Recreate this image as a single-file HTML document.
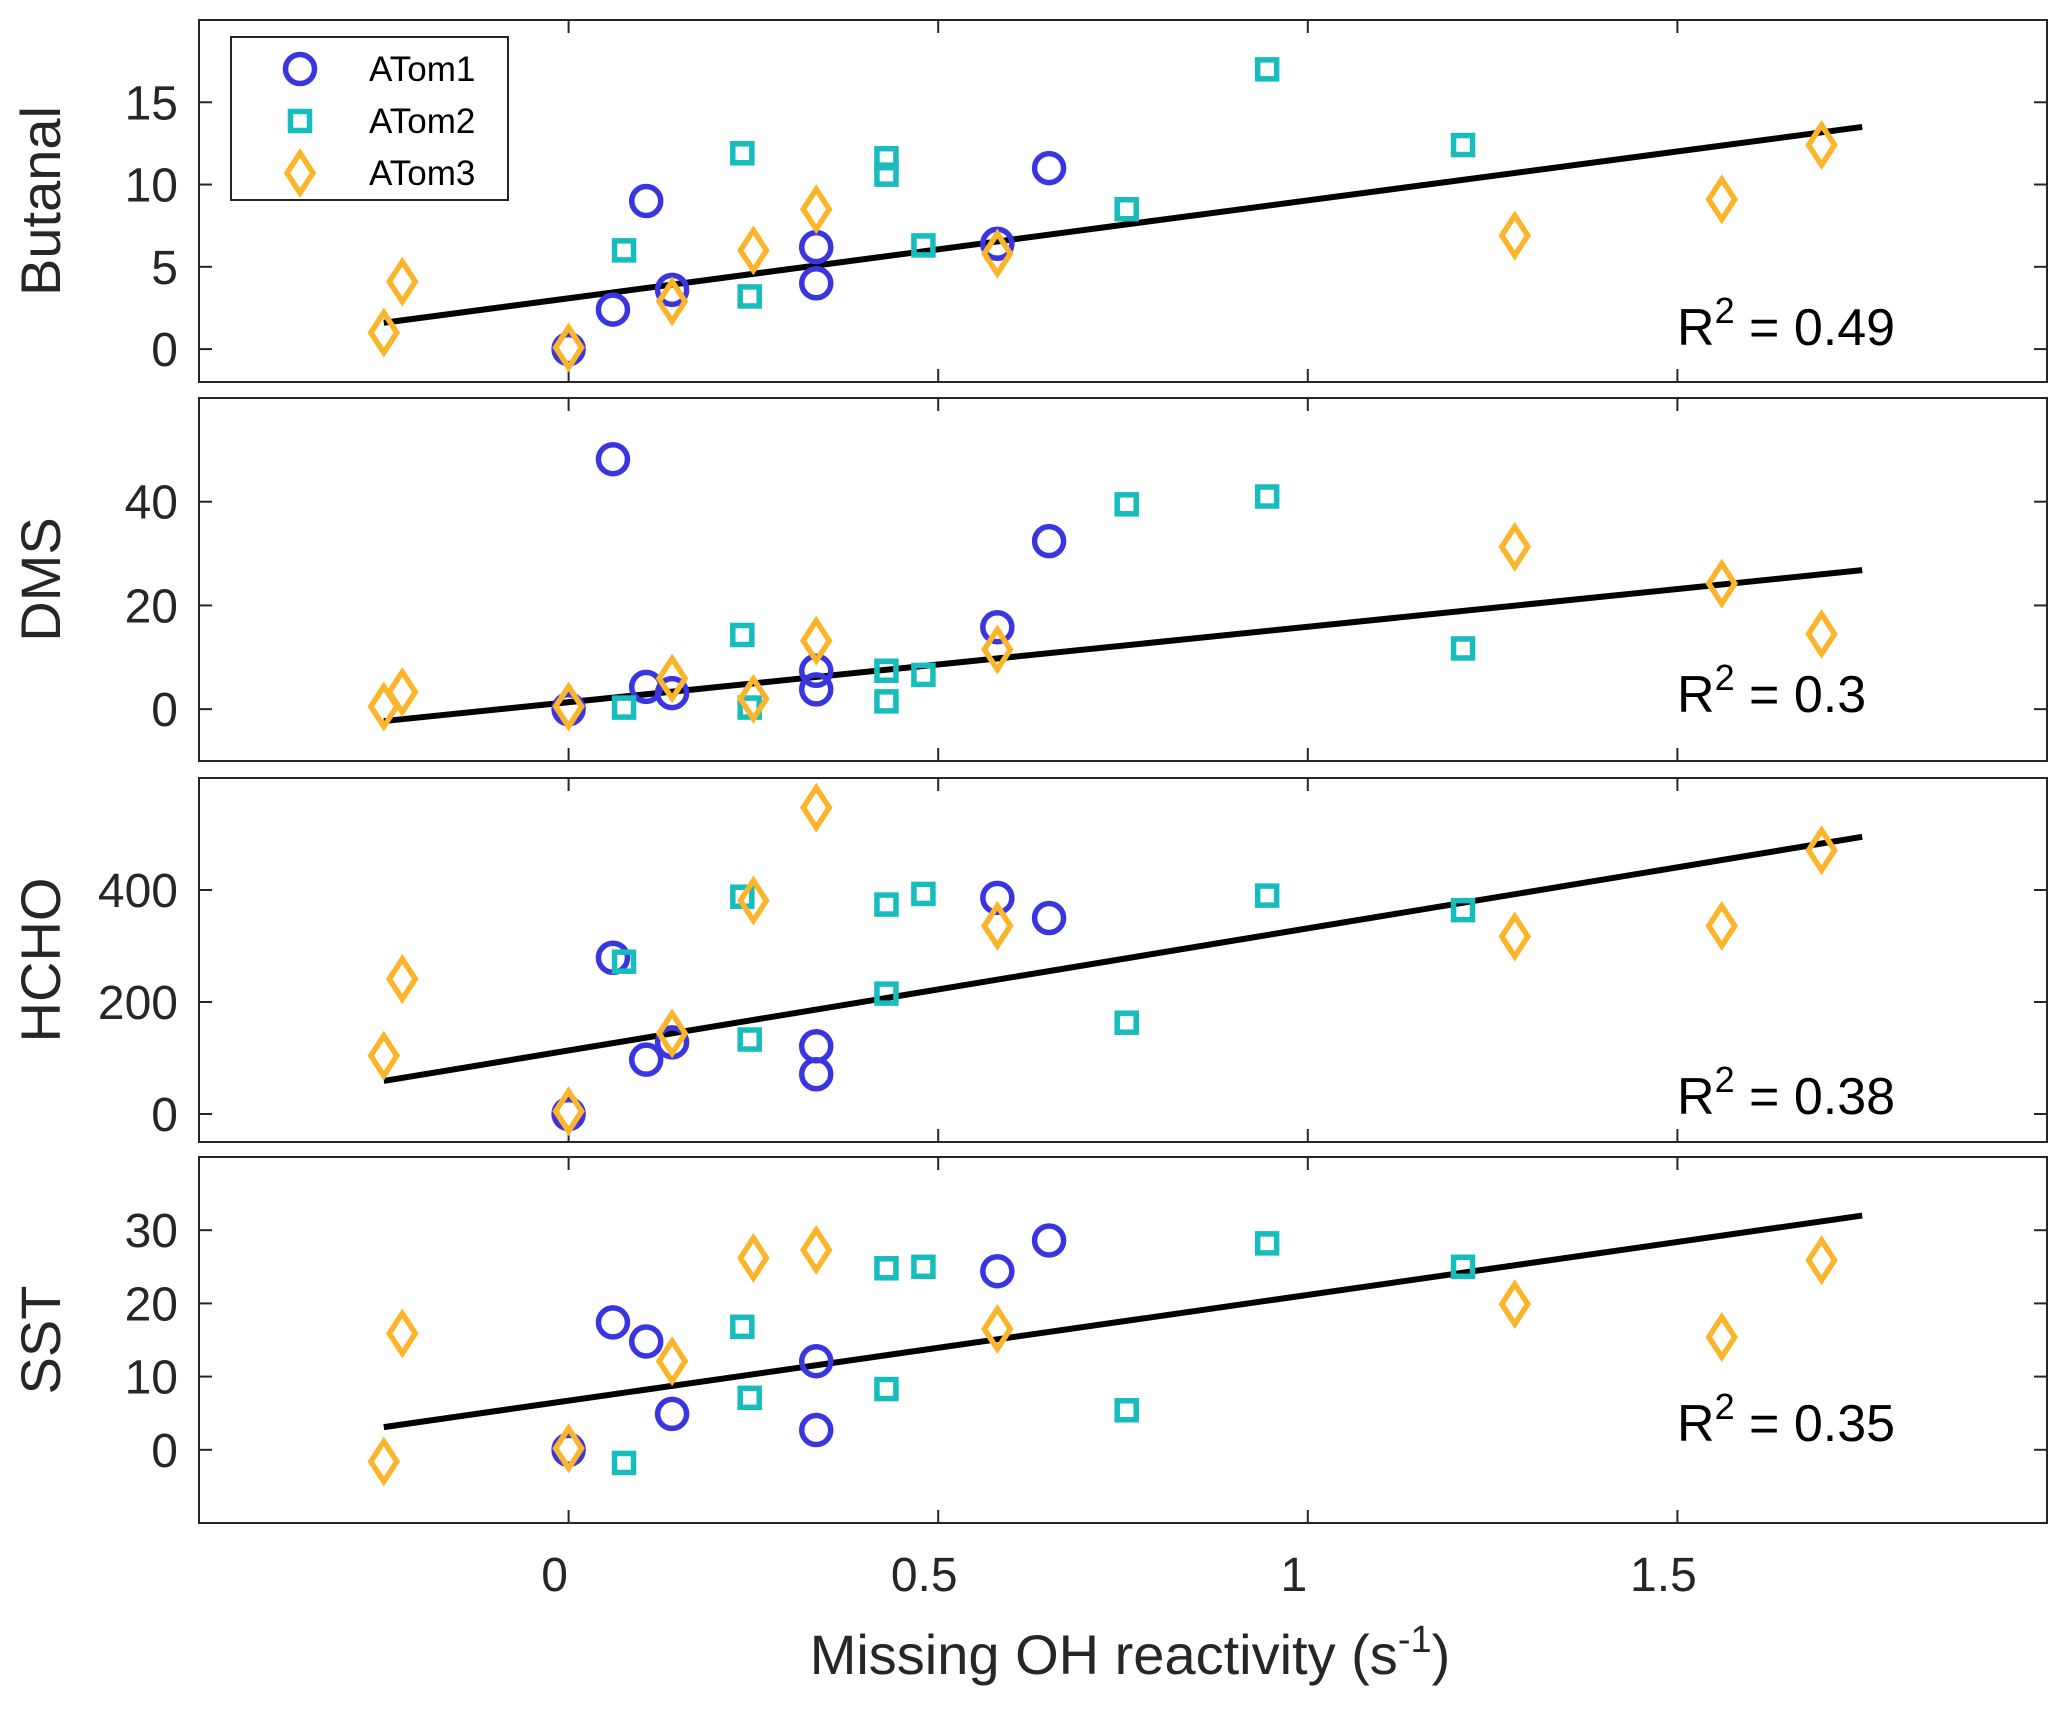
<!DOCTYPE html>
<html><head><meta charset="utf-8"><style>
html,body{margin:0;padding:0;background:#fff}
svg{display:block;font-family:"Liberation Sans",sans-serif}
</style></head><body>
<svg id="chart" width="2067" height="1715" viewBox="0 0 2067 1715"></svg>
<script>
const xTicks=[0,0.5,1,1.5];
const xTickLabels=["0","0.5","1","1.5"];
const panelNames=["Butanal","DMS","HCHO","SST"];
const panelYMin=[-2,-10,-50,-10];
const panelYMax=[20,60,600,40];
const panelYTicks=[[0,5,10,15],[0,20,40],[0,200,400],[0,10,20,30]];
const r2Labels=["0.49","0.3","0.38","0.35"];
const a1x=[0.06,0.105,0.14,0.335,0.335,0,0.58,0.65];
const a2x=[0.075,0.235,0.245,0.43,0.43,0.48,0.755,0.945,1.21];
const a3x=[-0.25,-0.225,0,0.14,0.25,0.335,0.58,1.28,1.56,1.695];
const a1y=[[2.4,9.0,3.6,6.2,4.0,0,6.4,11.0],[48.2,4.3,3.1,7.4,3.8,0,15.8,32.4],[279,97,128,121,71,0,386,350],[17.4,14.8,4.9,12.1,2.7,0,24.4,28.6]];
const a2y=[[6.0,11.9,3.2,11.6,10.6,6.3,8.5,17.0,12.4],[0.3,14.3,0.3,7.4,1.5,6.6,39.5,41,11.7],[272,388,133,374,215,393,163,390,364],[-1.8,16.8,7.1,24.8,8.3,25,5.4,28.2,25]];
const a3y=[[1.0,4.1,0.1,2.9,6.0,8.5,5.8,6.9,9.1,12.4],[0.5,3.3,0.5,5.9,2,13.2,11.5,31.3,24.2,14.5],[104,241,5,144,381,547,336,317,336,471],[-1.6,15.9,0.2,12.1,26.2,27.3,16.5,19.9,15.4,25.9]];
const fitX=[-0.25,1.75];
const fitY=[[1.6,13.5],[-2.3,26.8],[59,495],[3.1,32]];

const NS="http://www.w3.org/2000/svg";
const svg=document.getElementById('chart');
const L=199,R=2047,XMIN=-0.5,XMAX=2;
const tops=[20,398,778,1157],bots=[382,761,1142,1523];
const r2Base=[345,712,1114,1441];
function sx(v){return L+(v-XMIN)/(XMAX-XMIN)*(R-L);}
function mk(tag,attrs,parent){const e=document.createElementNS(NS,tag);for(const k in attrs)e.setAttribute(k,attrs[k]);(parent||svg).appendChild(e);return e;}
const C1="#3b35e0",C2="#17bcbc",C3="#fbb52b";
const SW=5.5;
function circle(g,x,y){const e=mk('circle',{cx:x,cy:y,r:14.5,fill:'none',stroke:C1,'stroke-width':SW},g);}
function square(g,x,y){const e=mk('rect',{x:x-9.5,y:y-9.5,width:19,height:19,fill:'none',stroke:C2,'stroke-width':SW},g);}
function diamond(g,x,y){const e=mk('polygon',{points:`${x},${y-20} ${x+13},${y} ${x},${y+20} ${x-13},${y}`,fill:'none',stroke:C3,'stroke-width':SW},g);}

for(let p=0;p<4;p++){
  const T=tops[p],B=bots[p],ymin=panelYMin[p],ymax=panelYMax[p];
  const sy=v=>B-(v-ymin)/(ymax-ymin)*(B-T);
  const g=mk('g',{});
  
  
  const frame=mk('rect',{x:L,y:T,width:R-L,height:B-T,fill:'#fff',stroke:'#262626','stroke-width':2},g);
  
  
  xTicks.forEach((t,i)=>{const x=sx(t);
    mk('line',{x1:x,x2:x,y1:B,y2:B-13,stroke:'#262626','stroke-width':2},g);
    mk('line',{x1:x,x2:x,y1:T,y2:T+13,stroke:'#262626','stroke-width':2},g);
  });
  panelYTicks[p].forEach(t=>{const y=sy(t);
    mk('line',{x1:L,x2:L+13,y1:y,y2:y,stroke:'#262626','stroke-width':2},g);
    mk('line',{x1:R,x2:R-13,y1:y,y2:y,stroke:'#262626','stroke-width':2},g);
    const tl=mk('text',{x:178,y:y+17,'text-anchor':'end','font-size':48,fill:'#262626'},g);
    tl.textContent=String(t);
    
    
  });
  const yl=mk('text',{x:0,y:0,transform:`translate(60,${(T+B)/2}) rotate(-90)`,'text-anchor':'middle','font-size':56,fill:'#262626'},g);
  yl.textContent=panelNames[p];
  
  
  const fl=mk('line',{x1:sx(fitX[0]),y1:sy(fitY[p][0]),x2:sx(fitX[1]),y2:sy(fitY[p][1]),stroke:'#000','stroke-width':6},g);
  
  
  a1x.forEach((x,i)=>circle(g,sx(x),sy(a1y[p][i])));
  a2x.forEach((x,i)=>square(g,sx(x),sy(a2y[p][i])));
  a3x.forEach((x,i)=>diamond(g,sx(x),sy(a3y[p][i])));
  const r2=mk('text',{x:1677,y:r2Base[p],'font-size':52,fill:'#000'},g);
  r2.innerHTML='R<tspan dy="-22" font-size="36">2</tspan><tspan dy="22"> = '+r2Labels[p]+'</tspan>';
  
  
}
xTicks.forEach((t,i)=>{
  const tl=mk('text',{x:sx(t)-14,y:1591,'text-anchor':'middle','font-size':48,fill:'#262626'});
  tl.textContent=xTickLabels[i];
  
  
});
const xl=mk('text',{x:1130,y:1674,'text-anchor':'middle','font-size':56,fill:'#262626'});
xl.innerHTML='Missing OH reactivity (s<tspan dy="-22" font-size="38">-1</tspan><tspan dy="22">)</tspan>';


const lg=mk('g',{});


mk('rect',{x:231,y:37,width:277,height:163,fill:'#fff',stroke:'#262626','stroke-width':2},lg);
circle(lg,300,69);square(lg,300,121);diamond(lg,300,173);
[["ATom1",69],["ATom2",121],["ATom3",173]].forEach(([s,y])=>{
  const t=mk('text',{x:369,y:y+12,'font-size':35,fill:'#000'},lg);
  t.textContent=s;
  
  
});
</script>
</body></html>
